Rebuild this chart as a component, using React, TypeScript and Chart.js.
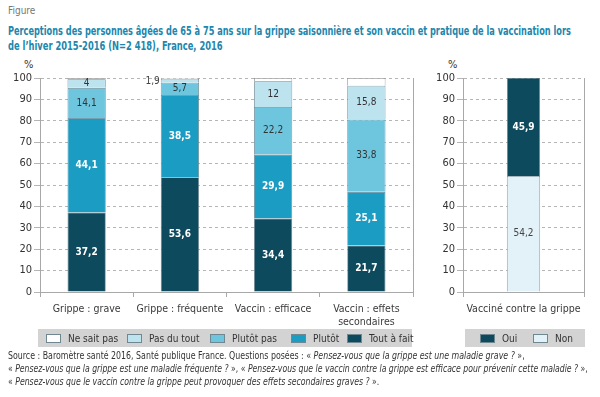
import React, { useEffect, useLayoutEffect, useRef } from "react";
import { Chart, registerables } from "chart.js";
Chart.register(...registerables);

const categories = [["Grippe : grave"], ["Grippe : fréquente"], ["Vaccin : efficace"], ["Vaccin : effets", "secondaires"]];
const toutAFait = [37.2, 53.6, 34.4, 21.7];
const plutot = [44.1, 38.5, 29.9, 25.1];
const plutotPas = [14.1, 5.7, 22.2, 33.8];
const pasDuTout = [4, 1.9, 12, 15.8];
const neSaitPas = [0.6, 0.3, 1.5, 3.6];

const vaccCategories = ["Vacciné contre la grippe"];
const non = [54.2];
const oui = [45.9];

const yMax = 100;
const yStep = 10;

const C_TOUT = "#0e4a5d";
const C_PLUTOT = "#1a9cc3";
const C_PLUTOTPAS = "#6dc5de";
const C_PASDUTOUT = "#bde3ef";
const C_NSP = "#ffffff";
const C_NON = "#e3f2f8";
const FAM = "'DejaVu Sans', sans-serif";

const fmt = (v: number) => String(v).replace(".", ",");

const labelPlugin = {
  id: "segLabels",
  afterDatasetsDraw(chart: any) {
    const ctx = chart.ctx;
    ctx.save();
    chart.data.datasets.forEach((ds: any, di: number) => {
      if (!ds.showLabel) return;
      const meta = chart.getDatasetMeta(di);
      meta.data.forEach((el: any, i: number) => {
        const v = ds.data[i];
        const top = Math.max(el.y, chart.chartArea.top);
        const h = el.base - top;
        const cy = (top + el.base) / 2;
        ctx.font = (ds.labelBold ? "bold " : "") + "condensed 10px " + FAM;
        ctx.fillStyle = ds.labelColor;
        ctx.textBaseline = "middle";
        if (h < 6) {
          ctx.textAlign = "right";
          ctx.fillStyle = "#444";
          ctx.fillText(fmt(v), el.x - el.width / 2 - 1, cy + 1);
        } else {
          ctx.textAlign = "center";
          ctx.fillText(fmt(v), el.x, cy);
        }
      });
    });
    const ca = chart.chartArea;
    ctx.strokeStyle = "#a8a8a8";
    ctx.lineWidth = 1;
    ctx.beginPath();
    ctx.moveTo(Math.round(ca.right) + 0.5, ca.top);
    ctx.lineTo(Math.round(ca.right) + 0.5, ca.bottom);
    ctx.stroke();
    ctx.restore();
  },
};

function makeOptions(yWidth: number, padRight: number, barPct: number) {
  return {
    animation: false,
    responsive: false,
    maintainAspectRatio: false,
    layout: { padding: { top: 23, right: padRight, left: 0, bottom: 0 } },
    plugins: { legend: { display: false }, tooltip: { enabled: false } },
    datasets: { bar: { barPercentage: barPct, categoryPercentage: 1 } },
    scales: {
      x: {
        stacked: true,
        grid: { display: true, drawOnChartArea: false, tickLength: 5, color: "#a8a8a8" },
        border: { color: "#a8a8a8" },
        ticks: { color: "#3a3a3a", font: { size: 10.5, family: FAM, weight: "condensed" }, padding: 6, maxRotation: 0, minRotation: 0, autoSkip: false },
        afterFit: (s: any) => { s.height = 38; },
      },
      y: {
        stacked: true,
        min: 0,
        max: yMax,
        grid: { color: "#b5b5b5", tickLength: 6 },
        border: { dash: [3, 3], color: "#a8a8a8", display: true },
        ticks: { stepSize: yStep, color: "#333", font: { size: 11, family: FAM, weight: "condensed" }, padding: 2 },
        afterFit: (s: any) => { s.width = yWidth; },
      },
    },
  };
}

function LeftChart() {
  const ref = useRef<HTMLCanvasElement>(null);
  useEffect(() => {
    const bw = 0.8;
    const bc = "#6f8790";
    const chart = new Chart(ref.current!, {
      type: "bar",
      data: {
        labels: categories,
        datasets: [
          { label: "Tout à fait", data: toutAFait, backgroundColor: C_TOUT, borderColor: bc, borderWidth: bw, showLabel: true, labelColor: "#fff", labelBold: true } as any,
          { label: "Plutôt", data: plutot, backgroundColor: C_PLUTOT, borderColor: bc, borderWidth: bw, showLabel: true, labelColor: "#fff", labelBold: true },
          { label: "Plutôt pas", data: plutotPas, backgroundColor: C_PLUTOTPAS, borderColor: bc, borderWidth: bw, showLabel: true, labelColor: "#333", labelBold: false },
          { label: "Pas du tout", data: pasDuTout, backgroundColor: C_PASDUTOUT, borderColor: bc, borderWidth: bw, showLabel: true, labelColor: "#333", labelBold: false },
          { label: "Ne sait pas", data: neSaitPas, backgroundColor: C_NSP, borderColor: "#888", borderWidth: bw, showLabel: false },
        ],
      },
      options: makeOptions(40, 12, 0.41) as any,
      plugins: [labelPlugin],
    });
    return () => chart.destroy();
  }, []);
  return <canvas ref={ref} width={425} height={275} style={{ position: "absolute", left: 0, top: 55, width: 425, height: 275 }} />;
}

function RightChart() {
  const ref = useRef<HTMLCanvasElement>(null);
  useEffect(() => {
    const bw = 0.8;
    const bc = "#6f8790";
    const chart = new Chart(ref.current!, {
      type: "bar",
      data: {
        labels: vaccCategories,
        datasets: [
          { label: "Non", data: non, backgroundColor: C_NON, borderColor: bc, borderWidth: bw, showLabel: true, labelColor: "#444", labelBold: false } as any,
          { label: "Oui", data: oui, backgroundColor: C_TOUT, borderColor: bc, borderWidth: bw, showLabel: true, labelColor: "#fff", labelBold: true },
        ],
      },
      options: makeOptions(43, 16, 0.275) as any,
      plugins: [labelPlugin],
    });
    return () => chart.destroy();
  }, []);
  return <canvas ref={ref} width={180} height={275} style={{ position: "absolute", left: 420, top: 55, width: 180, height: 275 }} />;
}

const leftLegend = [
  { label: "Ne sait pas", color: C_NSP, x: 46 },
  { label: "Pas du tout", color: C_PASDUTOUT, x: 127 },
  { label: "Plutôt pas", color: C_PLUTOTPAS, x: 210 },
  { label: "Plutôt", color: C_PLUTOT, x: 291 },
  { label: "Tout à fait", color: C_TOUT, x: 347 },
];
const rightLegend = [
  { label: "Oui", color: C_TOUT, x: 480 },
  { label: "Non", color: C_NON, x: 533 },
];

const txt = { fontFamily: FAM, fontStretch: "condensed" } as any;

function FitLine({ target, children, style }: { target: number; children: any; style?: any }) {
  const ref = useRef<HTMLSpanElement>(null);
  useLayoutEffect(() => {
    const el = ref.current!;
    el.style.transform = "none";
    const w = el.offsetWidth;
    if (w > 0) el.style.transform = `scaleX(${target / w})`;
  }, [target]);
  return (
    <div style={{ whiteSpace: "nowrap", ...style }}>
      <span ref={ref} style={{ display: "inline-block", transformOrigin: "left center" }}>{children}</span>
    </div>
  );
}

function LegendItems({ items }: { items: { label: string; color: string; x: number }[] }) {
  return (
    <>
      {items.map((it) => (
        <div key={it.label} style={{ ...txt, position: "absolute", left: it.x, top: 331, height: 14, display: "flex", alignItems: "center", fontSize: 10, color: "#333", whiteSpace: "nowrap" }}>
          <span style={{ display: "inline-block", width: 13, height: 7, background: it.color, border: "1px solid #6f8790", marginRight: 7 }} />
          {it.label}
        </div>
      ))}
    </>
  );
}

export default function App() {
  return (
    <div style={{ ...txt, position: "absolute", left: 0, top: 0, width: 600, height: 397, background: "#fff", overflow: "hidden" }}>
      <div style={{ position: "absolute", left: 8, top: 5, fontSize: 10, color: "#777" }}>Figure</div>
      <div style={{ position: "absolute", left: 8, top: 23, fontSize: 12.5, lineHeight: "15px", fontWeight: "bold", color: "#2186ad" }}>
        <FitLine target={563}>Perceptions des personnes âgées de 65 à 75 ans sur la grippe saisonnière et son vaccin et pratique de la vaccination lors</FitLine>
        <FitLine target={215}>de l’hiver 2015-2016 (N=2 418), France, 2016</FitLine>
      </div>
      <div style={{ position: "absolute", left: 24, top: 58, fontSize: 11, color: "#333" }}>%</div>
      <div style={{ position: "absolute", left: 448, top: 58, fontSize: 11, color: "#333" }}>%</div>
      <LeftChart />
      <RightChart />
      <div style={{ position: "absolute", left: 38, top: 329, width: 374, height: 18, background: "#d3d3d3" }} />
      <div style={{ position: "absolute", left: 465, top: 329, width: 120, height: 18, background: "#d3d3d3" }} />
      <LegendItems items={leftLegend} />
      <LegendItems items={rightLegend} />
      <div style={{ position: "absolute", left: 8, top: 349, fontSize: 10, lineHeight: "13px", color: "#333" }}>
        <FitLine target={517}>Source : Baromètre santé 2016, Santé publique France. Questions posées : « <i>Pensez-vous que la grippe est une maladie grave ?</i> »,</FitLine>
        <FitLine target={580}>« <i>Pensez-vous que la grippe est une maladie fréquente ?</i> », « <i>Pensez-vous que le vaccin contre la grippe est efficace pour prévenir cette maladie ?</i> »,</FitLine>
        <FitLine target={371}>« <i>Pensez-vous que le vaccin contre la grippe peut provoquer des effets secondaires graves ?</i> ».</FitLine>
      </div>
    </div>
  );
}
